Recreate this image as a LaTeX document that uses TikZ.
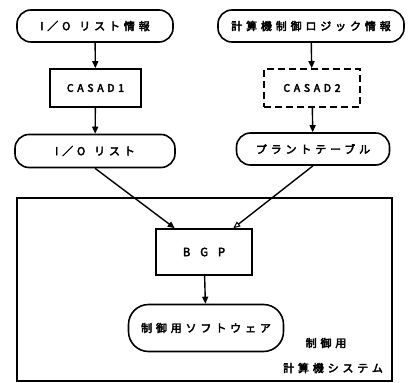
\documentclass[tikz,border=0pt]{standalone}
\usepackage{fontspec}
\newfontfamily\jp[LetterSpace=35,FakeBold=3.5]{Noto Sans CJK JP}
\newfontfamily\jpw[LetterSpace=85,FakeBold=3.5]{Noto Sans CJK JP}
\usetikzlibrary{arrows.meta,calc}
\begin{document}
\begin{tikzpicture}[x=1pt,y=-1pt,
  every node/.style={inner sep=0pt,line width=1.6pt,font=\jp\fontsize{11}{13}\selectfont},
  term/.style={draw,rounded corners=14pt,minimum height=32pt},
  proc/.style={draw,minimum height=38pt},
  conn/.style={line width=1.4pt,-{Triangle[length=7pt,width=6pt]}},
  oconn/.style={line width=1.4pt,-{Triangle[open,length=7pt,width=6pt,line width=1pt]}}]
\useasboundingbox (0,0) rectangle (411,382);
\draw[line width=1.8pt] (17,381) -- (17,198) -- (392,198) -- (392,381) -- cycle;
\node[term,minimum width=156pt] (tl) at (95,26) {I／O\hspace{9pt}リスト情報};
\node[term,minimum width=186pt] (tr) at (311,26) {計算機制御ロジック情報};
\node[proc,minimum width=91pt,font=\jp\fontsize{10.5}{13}\selectfont] (c1) at (95.5,88) {CASAD1};
\node[proc,minimum width=96pt,dash pattern=on 7pt off 4pt,font=\jp\fontsize{10.5}{13}\selectfont] (c2) at (312,88) {CASAD2};
\node[term,minimum width=160pt,minimum height=33pt] (iol) at (95,151) {I／O\hspace{9pt}リスト};
\node[term,minimum width=153pt] (pt) at (313,149) {プラントテーブル};
\node[draw,minimum width=96pt,minimum height=46pt,font=\jpw\fontsize{11.5}{13}\selectfont] (bgp) at (204,252) {BGP};
\node[term,rounded corners=20pt,minimum width=155pt,minimum height=47pt] (sw) at (206,328) {制御用ソフトウェア};
\node (l1) at (326,343) {制御用};
\node (l2) at (333,368) {計算機システム};
\coordinate (bin1) at ($(bgp.north west)!0.2!(bgp.north east)$);
\coordinate (bin2) at ($(bgp.north west)!0.8!(bgp.north east)$);
\draw[conn] (tl) -- (c1);
\draw[conn] (c1) -- (iol);
\draw[conn] (tr) -- (c2);
\draw[conn] (c2) -- (pt);
\draw[conn] (iol.south) -- (bin1);
\draw[oconn] (pt.south) -- (bin2);
\draw[conn] (bgp) -- (sw);
\end{tikzpicture}
\end{document}
